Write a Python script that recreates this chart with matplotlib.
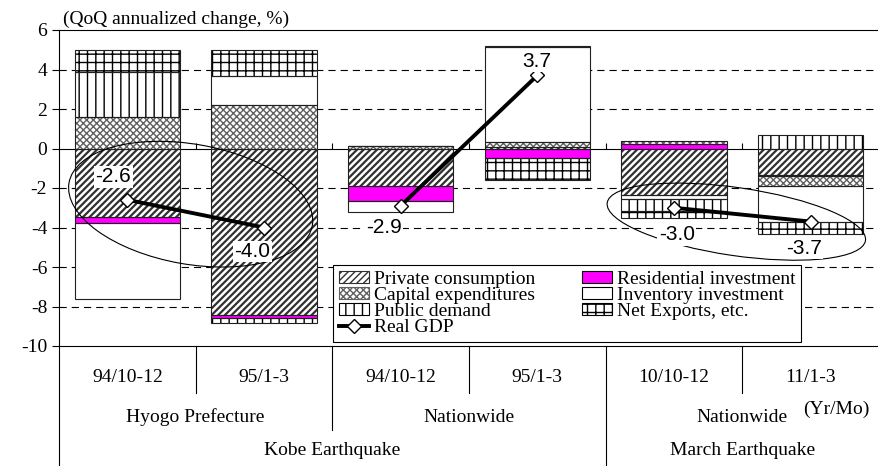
import numpy as np
import matplotlib.pyplot as plt
from matplotlib.patches import Ellipse, Patch
from matplotlib.lines import Line2D
from matplotlib.transforms import ScaledTranslation

plt.rcParams['font.family'] = ['Liberation Serif', 'DejaVu Serif']
plt.rcParams['hatch.linewidth'] = 1.0
plt.rcParams['axes.unicode_minus'] = False

# ---- data ----
periods = ['94/10-12', '95/1-3', '94/10-12', '95/1-3', '10/10-12', '11/1-3']
regions = ['Hyogo Prefecture', 'Nationwide', 'Nationwide']
region_bars = [(0, 1), (2, 3), (4, 5)]
events = ['Kobe Earthquake', 'March Earthquake']
event_bars = [(0, 3), (4, 5)]

private_consumption = [-3.47, -8.44, -1.90, 0.07, -2.34, -1.35]
residential = [-0.30, -0.13, -0.75, -0.50, 0.24, -0.03]
capital_exp = [1.60, 2.22, 0.15, 0.25, 0.13, -0.50]
inventory = [-3.83, 1.45, -0.55, 4.80, -0.20, -1.85]
public_demand = [2.25, -0.27, 0.0, 0.07, -0.63, 0.67]
net_exports = [1.15, 1.30, 0.0, -1.07, -0.34, -0.58]
real_gdp = [-2.6, -4.0, -2.9, 3.7, -3.0, -3.7]

# label offsets (points) for the GDP values
label_offsets = [(-10, 16.5), (-8.6, -17.3), (-12, -16), (-0.7, 10), (2, -19.4), (-5, -19.4)]

# name, values, face, hatch, hatch colour, hatch width
components = [
    ('Private consumption', private_consumption, 'white', '/////', '#303030', 1.6),
    ('Residential investment', residential, '#ff00ff', None, 'black', 1.0),
    ('Capital expenditures', capital_exp, 'white', 'xxxxx', '#606060', 1.0),
    ('Inventory investment', inventory, 'white', None, 'black', 1.0),
    ('Public demand', public_demand, 'white', '||', 'black', 1.0),
    ('Net Exports, etc.', net_exports, 'white', '++', 'black', 1.0),
]

fs = 14

fig = plt.figure(figsize=(8.79, 4.66), dpi=100)
ax = fig.add_axes([59 / 879, 120 / 466, 820 / 879, 316 / 466])

x = np.arange(len(periods))
width = 0.77
pos_base = np.zeros(len(x))
neg_base = np.zeros(len(x))
for name, vals, face, hatch, hcol, hlw in components:
    vals = np.array(vals)
    bottom = np.where(vals >= 0, pos_base, neg_base)
    with plt.rc_context({'hatch.linewidth': hlw}):
        ax.bar(x, vals, width, bottom=bottom, color=face, hatch=hatch,
               edgecolor=hcol, linewidth=0, zorder=2)
    ax.bar(x, vals, width, bottom=bottom, fill=False,
           edgecolor='#202020', linewidth=0.8, zorder=3)
    pos_base += np.where(vals >= 0, vals, 0)
    neg_base += np.where(vals < 0, vals, 0)

# real GDP, one segment per pair
for i in range(0, len(x), 2):
    ax.plot(x[i:i + 2], real_gdp[i:i + 2], color='black', lw=2.8, marker='D',
            ms=7, mfc='white', mec='black', mew=1, zorder=5)

for xi, v, off in zip(x, real_gdp, label_offsets):
    ax.annotate(f'{v:.1f}', (xi, v), xytext=off, textcoords='offset points',
                ha='center', va='center', fontsize=15,
                family=['Liberation Sans', 'DejaVu Sans'],
                bbox=dict(facecolor='white', edgecolor='none', pad=1.0), zorder=7)

# highlight ellipses, anchored on the midpoint of each pair
ellipses = [((0, 1), (-0.05, 0.095), 2.47, 1.20, -10),
            ((4, 5), (-0.06, -0.07), 2.61, 0.68, -8.3)]
for (a, b), (dx, dy), w, h, ang in ellipses:
    xm = (x[a] + x[b]) / 2
    ym = (real_gdp[a] + real_gdp[b]) / 2
    tr = fig.dpi_scale_trans + ScaledTranslation(xm, ym, ax.transData)
    ax.add_patch(Ellipse((dx, dy), w, h, angle=ang, fill=False, lw=0.8,
                         edgecolor='black', transform=tr, zorder=4))

# grid and axes
for g in [4, 2, -2, -4, -6, -8]:
    ax.axhline(g, color='black', lw=0.8, dashes=(6.5, 4.5), zorder=0)
ax.axhline(0, color='black', lw=0.8, zorder=1)
ax.vlines(x[:-1] + 0.5, 0, 0.3, color='black', lw=0.8, zorder=1)

ax.set_xlim(-0.5, len(x) - 0.5)
ax.set_ylim(-10, 6)
ax.set_yticks(range(-10, 7, 2))
ax.tick_params(axis='y', labelsize=fs, length=5, width=0.8, direction='out')
ax.set_xticks([])
for s in ax.spines.values():
    s.set_linewidth(0.8)

ax.text(0.005, 1.006, '(QoQ annualized change, %)', transform=ax.transAxes,
        ha='left', va='bottom', fontsize=fs)

# category table below the axes
tr = ax.get_xaxis_transform()
fig_bottom = -120 / 316
ax.plot([-0.5, -0.5], [0, fig_bottom], transform=tr, color='black', lw=0.8, clip_on=False)
for i, lab in enumerate(periods):
    ax.text(x[i], -0.101, lab, transform=tr, ha='center', va='center', fontsize=fs)
for a, b in region_bars:
    ax.plot([x[a] + 0.5] * 2, [0, -0.149], transform=tr, color='black', lw=0.8, clip_on=False)
for k, (lab, (a, b)) in enumerate(zip(regions, region_bars)):
    ax.text((x[a] + x[b]) / 2, -0.225, lab, transform=tr, ha='center', va='center', fontsize=fs)
    if k < len(regions) - 1:
        end = fig_bottom if b == event_bars[0][1] else -0.266
        ax.plot([x[b] + 0.5] * 2, [0, end], transform=tr, color='black', lw=0.8, clip_on=False)
for lab, (a, b) in zip(events, event_bars):
    ax.text((x[a] + x[b]) / 2, -0.332, lab, transform=tr, ha='center', va='center', fontsize=fs)
ax.text(5.19, -0.2, '(Yr/Mo)', transform=tr, ha='center', va='center', fontsize=fs)

# legend
order = [0, 2, 4, None, 1, 3, 5]
handles, labels = [], []
for idx in order:
    if idx is None:
        handles.append(Line2D([], [], color='black', lw=2.8, marker='D', ms=7,
                              mfc='white', mec='black', mew=1))
        labels.append('Real GDP')
    else:
        name, vals, face, hatch, hcol, hlw = components[idx]
        with plt.rc_context({'hatch.linewidth': hlw}):
            handles.append(Patch(facecolor=face, hatch=hatch, edgecolor=hcol, lw=0.8))
        labels.append(name)
leg = ax.legend(handles, labels, ncol=2, loc='lower left', bbox_to_anchor=(0.334, 0.013),
                frameon=True, fancybox=False, edgecolor='black', framealpha=1,
                fontsize=fs, labelspacing=-0.05, handlelength=1.55, handleheight=0.55,
                handletextpad=0.25, columnspacing=2.4, borderpad=0.3, borderaxespad=0)
leg.get_frame().set_linewidth(0.8)
leg.set_zorder(8)

plt.savefig('out.png', dpi=100)
